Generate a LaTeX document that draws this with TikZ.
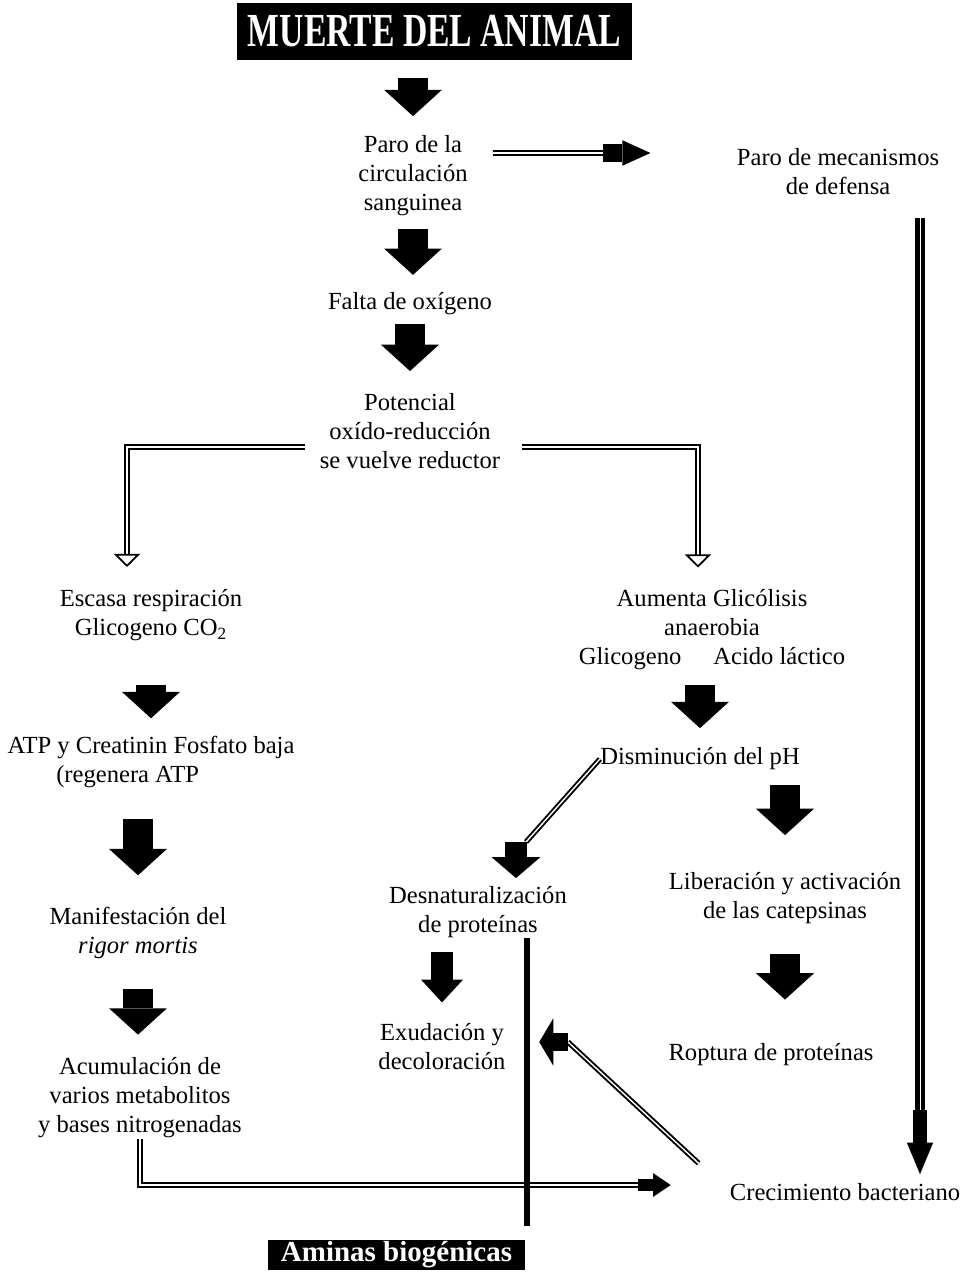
\documentclass[tikz,border=0pt]{standalone}
\usepackage{fontspec}
\setmainfont{Liberation Serif}
\usetikzlibrary{arrows.meta, calc}

\begin{document}
\begin{tikzpicture}[x=0.02cm, y=-0.02cm,
  every node/.style={font=\fontsize{14}{16.5}\selectfont},
  txt/.style={align=center, inner sep=0pt},
  banner/.style={fill=black, text=white, inner sep=0pt},
  bigarrow/.style={line width=17pt, -{Triangle[length=15pt, width=33pt, line width=0pt]}},
  midarrow/.style={line width=12.5pt, -{Triangle[length=13pt, width=24pt, line width=0pt]}},
  diagarrow/.style={line width=13pt, -{Triangle[length=12pt, width=28pt, line width=0pt]}},
  leftarrow/.style={line width=10pt, -{Triangle[length=8pt, width=27pt, line width=0pt]}},
  toparrow/.style={line width=10.5pt, -{Triangle[length=16pt, width=14.5pt, line width=0pt]}},
  botarrow/.style={line width=7pt, -{Triangle[length=10pt, width=13.5pt, line width=0pt]}},
  downarrow/.style={line width=8.5pt, -{Triangle[length=18pt, width=15pt, line width=0pt]}},
  dbl/.style={double=white, double distance=0.8pt, line width=1.1pt},
  thickdbl/.style={double=white, double distance=0.4pt, line width=2.5pt},
  openarrow/.style={line width=1pt, -{Triangle[open, length=7.5pt, width=15pt]}},
  vline/.style={line width=3pt},
]
\useasboundingbox (0,0) rectangle (962,1280);

% Boxes
\node[banner, minimum width=7.9cm, minimum height=1.14cm, font=\fontsize{27}{28}\selectfont\bfseries] (muerte) at (434.5,31.5) {\scalebox{0.71}[1]{MUERTE DEL ANIMAL}};
\node[banner, minimum width=5.14cm, minimum height=0.6cm, font=\fontsize{16.5}{18}\selectfont\bfseries] (aminas) at (396.5,1255) {Aminas biogénicas};

% Texts
\node[txt] (paro) at (413,176) {Paro de la\\circulación\\sanguinea};
\node[txt] (meca) at (838,172) {Paro de mecanismos\\de defensa};
\node[txt] (falta) at (410,304) {Falta de oxígeno};
\node[txt] (pot) at (410,431) {Potencial\\oxído-reducción\\se vuelve reductor};
\node[txt] (escasa) at (151,615) {Escasa respiración\\Glicogeno CO\textsubscript{2}};
\node[txt] (aumenta) at (712,630) {Aumenta Glicólisis\\anaerobia\\Glicogeno\hspace{1.3em}Acido láctico};
\node[txt] (atp) at (151,762) {ATP y Creatinin Fosfato baja\\(regenera ATP\hspace*{1.9em}};
\node[txt] (dism) at (700,759) {Disminución del pH};
\node[txt] (manif) at (138,933) {Manifestación del\\\textit{rigor mortis}};
\node[txt] (desnat) at (478,912) {Desnaturalización\\de proteínas};
\node[txt] (liber) at (785,898) {Liberación y activación\\de las catepsinas};
\node[txt] (exud) at (442,1047) {Exudación y\\decoloración};
\node[txt] (roptura) at (771,1055) {Roptura de proteínas};
\node[txt] (acum) at (140,1098) {Acumulación de\\varios metabolitos\\y bases nitrogenadas};
\node[txt] (crec) at (845,1192) {Crecimiento bacteriano};

% Bends
\coordinate (tturn) at (603,153);
\coordinate (lturn) at (127,447);
\coordinate (lend) at (127,555);
\coordinate (pturn) at (698,447);
\coordinate (pend) at (698,555);
\coordinate (dturn) at (516,842);
\coordinate (cturn) at (568,1042);
\coordinate (bturn) at (638,1185);
\coordinate (rturn) at (920,1110);
\coordinate (vtop) at (527,918);

% Main chain
\draw[bigarrow, shorten <=10pt, shorten >=11pt] (paro.north |- muerte.south) -- (paro.north);
\draw[bigarrow, shorten <=7pt, shorten >=10pt] (paro.south) -- (paro.south |- falta.north);
\draw[bigarrow, shorten <=5pt, shorten >=12.5pt] (falta.south) -- (falta.south |- pot.north);

% Defence
\draw[dbl, shorten <=14pt] (paro.east |- tturn) -- (tturn);
\draw[toparrow, shorten >=49pt] (tturn) -- (tturn -| meca.west);
\draw[thickdbl, shorten <=13pt] (meca.south -| rturn) -- (rturn);
\draw[downarrow, shorten >=5pt] (rturn) -- (rturn |- crec.north);

% Split
\draw[dbl, shorten <=8pt] (pot.west |- lturn) -- (lturn) -- (lend);
\draw[openarrow, shorten >=12.5pt] (lend) -- (lend |- escasa.north);
\draw[dbl, shorten <=12pt] (pot.east |- pturn) -- (pturn) -- (pend);
\draw[openarrow, shorten >=12.5pt] (pend) -- (pend |- aumenta.north);

% Left column
\draw[bigarrow, shorten <=25pt, shorten >=10pt] (escasa.south) -- (escasa.south |- atp.north);
\draw[bigarrow, shorten <=17.5pt, shorten >=18pt] (atp.south -| manif.north) -- (manif.north);
\draw[bigarrow, shorten <=17pt, shorten >=13pt] (manif.south) -- (manif.south |- acum.north);
\draw[dbl] (acum.south) |- (bturn);
\draw[botarrow, shorten >=33.5pt] (bturn) -- (bturn -| crec.west);

% Right column
\draw[bigarrow, shorten <=8pt, shorten >=11pt] (aumenta.south -| dism.north) -- (dism.north);
\draw[bigarrow, shorten <=8.5pt, shorten >=21pt] (liber.north |- dism.south) -- (liber.north);
\draw[bigarrow, shorten <=17pt, shorten >=25pt] (liber.south) -- (liber.south |- roptura.north);

% Middle
\draw[dbl] (dism.west) -- ([xshift=0.2cm]dturn);
\draw[diagarrow, shorten >=4.5pt] (dturn) -- (dturn |- desnat.north);
\draw[midarrow, shorten <=8pt, shorten >=12pt] (exud.north |- desnat.south) -- (exud.north);
\draw[vline, shorten >=8pt] (desnat.south -| vtop) -- (vtop |- aminas.north);
\draw[dbl, shorten <=24pt] (crec.west) -- (cturn);
\draw[leftarrow, shorten >=19pt] (cturn) -- (cturn -| exud.east);

\end{tikzpicture}
\end{document}
